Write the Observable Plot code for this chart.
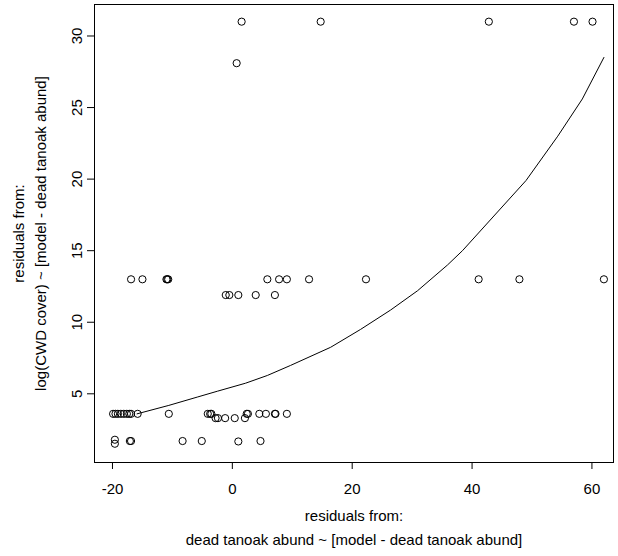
<!DOCTYPE html>
<html><head><meta charset="utf-8">
<script src="https://cdn.jsdelivr.net/npm/d3@7"></script>
<script src="https://cdn.jsdelivr.net/npm/@observablehq/plot@0.6"></script>
<style>body{margin:0;background:#fff}svg{font-family:"Liberation Sans",Arial,sans-serif}</style>
</head><body><div id="chart"></div>
<script>
const pointX = [1.55,14.74,42.8,57.0,60.1, 0.72,
  -16.9,-15.0,-11.0,-10.85,-10.7,5.84,7.8,9.1,12.8,22.3,41.1,47.9,62.0,
  -1.1,-0.5,1.0,3.9,7.1,
  -19.9,-19.5,-19.1,-18.6,-18.1,-17.6,-17.2,-16.9,-15.8,-10.6,-4.1,-3.7,-3.5,2.4,2.6,4.5,5.6,7.1,7.2,9.1,
  -2.8,-2.4,-1.2,0.4,2.1,
  -19.6,-19.6,-17.1,-16.9,-8.3,-5.1,1.0,4.7];
const pointY = [31,31,31,31,31, 28.1,
  13,13,13,13,13,13,13,13,13,13,13,13,13,
  11.9,11.9,11.9,11.9,11.9,
  3.6,3.6,3.6,3.6,3.6,3.6,3.6,3.6,3.6,3.6,3.6,3.6,3.6,3.6,3.6,3.6,3.6,3.6,3.6,3.6,
  3.3,3.3,3.3,3.3,3.3,
  1.79,1.51,1.7,1.7,1.7,1.7,1.67,1.7];
const curveX = [-15.9,-10.6,-5.85,-2.5,2.2,5.84,9.7,16.4,21.4,26.4,30.9,35.9,38.4,49,54.3,58.4,62];
const curveY = [3.6,4.19,4.77,5.18,5.74,6.28,6.98,8.25,9.5,10.85,12.2,14.0,15.0,19.9,23.0,25.6,28.5];
const xTicks = [-20,0,20,40,60];
const yTicks = [5,10,15,20,25,30];
const xLabel = ["residuals from:", "dead tanoak abund ~ [model - dead tanoak abund]"];
const yLabel = ["residuals from:", "log(CWD cover) ~ [model - dead tanoak abund]"];

const pts = pointX.map((x,i)=>({x, y: pointY[i]}));
const curve = curveX.map((x,i)=>({x, y: curveY[i]}));

const chart = Plot.plot({
  width: 618, height: 556,
  marginLeft: 94, marginRight: 5, marginTop: 4, marginBottom: 94,
  style: {fontFamily: '"Liberation Sans", Arial, sans-serif', fontSize: "15px", color: "#000", background: "#fff"},
  x: {domain: [-23, 63.6], ticks: xTicks},
  y: {domain: [0.2, 32.2], ticks: yTicks},
  marks: [
    Plot.frame({stroke: "#000", strokeWidth: 1}),
    Plot.axisX({ticks: xTicks, tickSize: 7, tickPadding: 14, tickFormat: d => String(d), label: null, fontSize: 15, stroke: "#000"}),
    Plot.axisY({ticks: yTicks, tickSize: 7, tickPadding: 6, tickRotate: -90, tickFormat: d => String(d), label: null, fontSize: 15, stroke: "#000", textAnchor: "middle"}),
    Plot.line(curve, {x: "x", y: "y", stroke: "#000", strokeWidth: 1}),
    Plot.dot(pts, {x: "x", y: "y", r: 3.6, stroke: "#000", strokeWidth: 1, fill: "none"}),
    Plot.text([xLabel[0]], {frameAnchor: "bottom", dy: 58, text: d => d, fontSize: 15, textAnchor: "middle"}),
    Plot.text([xLabel[1]], {frameAnchor: "bottom", dy: 82, text: d => d, fontSize: 15, textAnchor: "middle"}),
    Plot.text([yLabel[0]], {frameAnchor: "left", dx: -75, rotate: -90, text: d => d, fontSize: 15, textAnchor: "middle"}),
    Plot.text([yLabel[1]], {frameAnchor: "left", dx: -53, rotate: -90, text: d => d, fontSize: 15, textAnchor: "middle"})
  ]
});
document.getElementById("chart").appendChild(chart);
</script></body></html>
